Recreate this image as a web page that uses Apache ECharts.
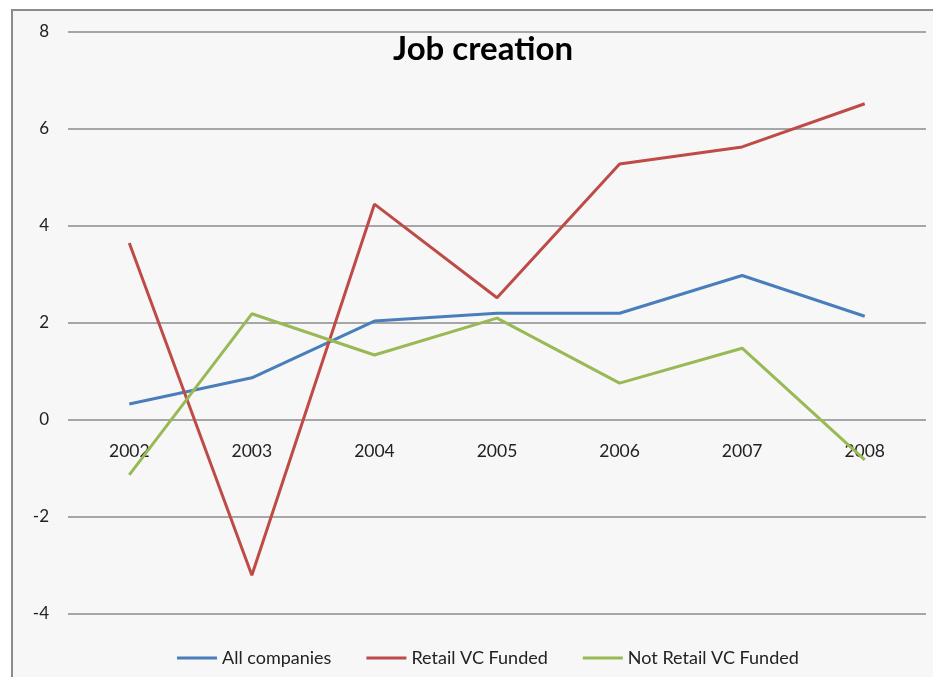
<!DOCTYPE html>
<html><head><meta charset="utf-8">
<script src="https://cdn.jsdelivr.net/npm/echarts@6/dist/echarts.min.js"></script>
<style>html,body{margin:0;padding:0;background:#fff}#c{width:933px;height:677px}</style>
</head><body><div id="c"></div>
<script>
const categories = ['2002','2003','2004','2005','2006','2007','2008'];
const allCompanies = [0.33, 0.87, 2.04, 2.2, 2.2, 2.98, 2.14];
const retailVC = [3.65, -3.2, 4.45, 2.52, 5.28, 5.63, 6.52];
const notRetailVC = [-1.13, 2.19, 1.34, 2.1, 0.76, 1.48, -0.82];
const seriesNames = ['All companies', 'Retail VC Funded', 'Not Retail VC Funded'];
const colors = ['#4a7ebb', '#be4b48', '#98b954'];
const font = 'Lato, "Open Sans", sans-serif';
const chart = echarts.init(document.getElementById('c'));
chart.setOption({
  animation: false,
  color: colors,
  graphic: [{type:'rect', z:-10, shape:{x:12,y:10,width:940,height:700},
    style:{fill:'#f7f7f7', stroke:'#8c8c8c', lineWidth:2}}],
  title: {text:'Job creation', left:388, top:28,
    textStyle:{fontFamily:font, fontSize:33, fontWeight:'bold', color:'#000'}},
  legend: {top:644, left:172, itemWidth:40, itemHeight:3, itemGap:35,
    icon:'rect',
    textStyle:{fontFamily:font, fontSize:18, color:'#222'},
    data: seriesNames},
  grid: {left:68, right:7, top:32, bottom:63},
  xAxis: {type:'category', data:categories, boundaryGap:true, offset:-194,
    axisLine:{show:false, onZero:false}, axisTick:{show:false},
    axisLabel:{margin:22, fontFamily:font, fontSize:17.5, color:'#222'}},
  yAxis: {type:'value', min:-4, max:8, interval:2,
    axisLine:{show:false}, axisTick:{show:false},
    axisLabel:{margin:19, fontFamily:font, fontSize:17, color:'#222'},
    splitLine:{lineStyle:{color:'#a6a6a6', width:2}}},
  series: [
    {name:seriesNames[0], type:'line', data:allCompanies, symbol:'none', lineStyle:{width:3}},
    {name:seriesNames[1], type:'line', data:retailVC, symbol:'none', lineStyle:{width:3}},
    {name:seriesNames[2], type:'line', data:notRetailVC, symbol:'none', lineStyle:{width:3}}
  ]
});
</script></body></html>
